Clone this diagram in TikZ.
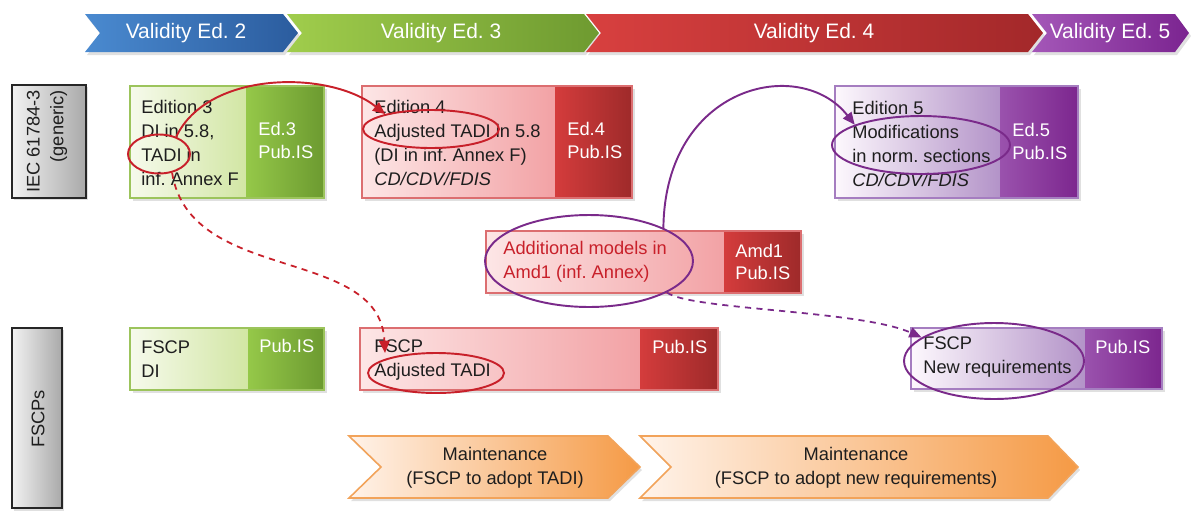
\documentclass[tikz,border=0pt]{standalone}
\usepackage{fontspec}
\setmainfont{Liberation Sans}
\usetikzlibrary{shapes.geometric,arrows.meta}

\definecolor{bluea}{HTML}{4A8AD0}\definecolor{blueb}{HTML}{2B5C9E}
\definecolor{greena}{HTML}{A0CD4C}\definecolor{greenb}{HTML}{6E9A30}
\definecolor{reda}{HTML}{D8403F}\definecolor{redb}{HTML}{A3282A}
\definecolor{purpa}{HTML}{A457B8}\definecolor{purpb}{HTML}{7B2490}
\definecolor{gLa}{HTML}{F6FAEC}\definecolor{gLb}{HTML}{D2E6A4}\definecolor{gBd}{HTML}{9CC45C}
\definecolor{gRa}{HTML}{95C849}\definecolor{gRb}{HTML}{6C9A30}
\definecolor{rLa}{HTML}{FDE6E6}\definecolor{rLb}{HTML}{F2A2A5}\definecolor{rBd}{HTML}{DC6E70}
\definecolor{rRa}{HTML}{D43C3C}\definecolor{rRb}{HTML}{9E2A2A}
\definecolor{pLa}{HTML}{FDF8FD}\definecolor{pLm}{HTML}{C6ABD8}\definecolor{pLb}{HTML}{B393C8}\definecolor{pBd}{HTML}{A57DC0}
\definecolor{pRa}{HTML}{9A52AD}\definecolor{pRb}{HTML}{7C268E}
\definecolor{oa}{HTML}{FFF3EA}\definecolor{ob}{HTML}{F59A45}\definecolor{oBd}{HTML}{F2A35A}
\definecolor{graya}{HTML}{F2F2F2}\definecolor{grayb}{HTML}{A9A9A9}
\definecolor{arrred}{HTML}{C8202A}\definecolor{arrpurp}{HTML}{7A2A8A}
\definecolor{txtgray}{HTML}{1E1E1E}

\begin{document}
\frenchspacing
\begin{tikzpicture}[x=0.02cm,y=-0.02cm,
  txt/.style={font=\fontsize{10.4}{13.6}\selectfont, text=txtgray, align=left, inner sep=0pt, anchor=west},
  wtxt/.style={font=\fontsize{10.4}{12.6}\selectfont, text=white, align=left, inner sep=0pt, anchor=west},
  ttl/.style={font=\fontsize{11.9}{14}\selectfont, text=white, inner sep=0pt},
  mtxt/.style={font=\fontsize{10.4}{13.6}\selectfont, text=txtgray, align=center, inner sep=0pt},
  shadowbox/.style={fill=black, opacity=0.12},
  ring/.style={ellipse, draw, line width=1.1pt, inner sep=0pt},
  redring/.style={ring, draw=arrred},
  purpring/.style={ring, draw=arrpurp},
  redarr/.style={draw=arrred, line width=1.1pt, -{Triangle[length=7pt,width=6pt]}},
  reddash/.style={redarr, line width=1pt, dash pattern=on 3.5pt off 3pt},
  purparr/.style={draw=arrpurp, line width=1.1pt, -{Triangle[length=7pt,width=6pt]}},
  purpdash/.style={purparr, line width=1pt, dash pattern=on 3.5pt off 3pt},
]
\useasboundingbox (0,0) rectangle (1203,511);

% ---------- top validity chevrons ----------
\fill[shadowbox] (87,17) -- (285,17) -- (300,36) -- (285,55) -- (87,55) -- (102,36) -- cycle;
\fill[shadowbox] (289,17) -- (586,17) -- (601,36) -- (586,55) -- (289,55) -- (304,36) -- cycle;
\fill[shadowbox] (588,17) -- (1030,17) -- (1045,36) -- (1030,55) -- (588,55) -- (603,36) -- cycle;
\fill[shadowbox] (1034,17) -- (1177,17) -- (1191,36) -- (1177,55) -- (1034,55) -- (1049,36) -- cycle;
\shade[left color=bluea, right color=blueb] (85,14) -- (283,14) -- (298,33) -- (283,52) -- (85,52) -- (100,33) -- cycle;
\shade[left color=greena, right color=greenb] (287,14) -- (584,14) -- (599,33) -- (584,52) -- (287,52) -- (302,33) -- cycle;
\shade[left color=reda, right color=redb] (586,14) -- (1028,14) -- (1043,33) -- (1028,52) -- (586,52) -- (601,33) -- cycle;
\shade[left color=purpa, right color=purpb] (1032,14) -- (1175,14) -- (1189,33) -- (1175,52) -- (1032,52) -- (1047,33) -- cycle;
\node[ttl] (v2) at (186,33) {Validity Ed. 2};
\node[ttl] (v3) at (441,33) {Validity Ed. 3};
\node[ttl] (v4) at (814,33) {Validity Ed. 4};
\node[ttl] (v5) at (1110,33) {Validity Ed. 5};

% ---------- left row labels ----------
\fill[shadowbox] (14,87) rectangle (88,200);
\shade[left color=graya, right color=grayb] (12,85) rectangle (86,198);
\draw[black!85, line width=1pt] (12,85) rectangle (86,198);
\node[txt, anchor=center, align=right, rotate=90] (lblIEC) at (47,141.5) {IEC 61784-3\\(generic)};
\fill[shadowbox] (14,330) rectangle (64,511);
\shade[left color=graya, right color=grayb] (12,328) rectangle (62,508);
\draw[black!85, line width=1pt] (12,328) rectangle (62,508);
\node[txt, anchor=center, rotate=90] (lblFSCP) at (38,419) {FSCPs};

% ---------- row 1: editions ----------
% Ed 3
\fill[shadowbox] (133,89) rectangle (327,201);
\shade[left color=gLa, right color=gLb] (130,86) rectangle (246,198);
\shade[left color=gRa, right color=gRb] (246,86) rectangle (324,198);
\draw[gBd, line width=0.9pt] (130,86) rectangle (324,198);
\node[txt] (ed3) at (141,143) {Edition 3\\DI in 5.8,\\TADI in\\inf. Annex F};
\node[wtxt] (ed3p) at (258,140.5) {Ed.3\\Pub.IS};
% Ed 4
\fill[shadowbox] (365,89) rectangle (635,201);
\shade[left color=rLa, right color=rLb] (362,86) rectangle (555,198);
\shade[left color=rRa, right color=rRb] (555,86) rectangle (632,198);
\draw[rBd, line width=0.9pt] (362,86) rectangle (632,198);
\node[txt] (ed4) at (374,143) {Edition 4\\Adjusted TADI in 5.8\\(DI in inf. Annex F)\\\textit{CD/CDV/FDIS}};
\node[wtxt] (ed4p) at (567,140.5) {Ed.4\\Pub.IS};
% Ed 5
\fill[shadowbox] (838,89) rectangle (1081,201);
\shade[left color=pLa, middle color=pLm, right color=pLb] (835,86) rectangle (1000,198);
\shade[left color=pRa, right color=pRb] (1000,86) rectangle (1078,198);
\draw[pBd, line width=0.9pt] (835,86) rectangle (1078,198);
\node[txt] (ed5) at (852,144) {Edition 5\\Modifications\\in norm. sections\\\textit{CD/CDV/FDIS}};
\node[wtxt] (ed5p) at (1012,141.5) {Ed.5\\Pub.IS};

% ---------- row 2: amendment ----------
\fill[shadowbox] (489,234) rectangle (804,296);
\shade[left color=rLa, right color=rLb] (486,231) rectangle (724,293);
\shade[left color=rRa, right color=rRb] (724,231) rectangle (801,293);
\draw[rBd, line width=0.9pt] (486,231) rectangle (801,293);
\node[txt, text=arrred] (amd) at (503,262) {Additional models in\\Amd1 (inf. Annex)};
\node[wtxt] (amdp) at (735,262) {Amd1\\Pub.IS};

% ---------- row 3: FSCPs ----------
\fill[shadowbox] (133,331) rectangle (327,393);
\shade[left color=gLa, right color=gLb] (130,328) rectangle (248,390);
\shade[left color=gRa, right color=gRb] (248,328) rectangle (324,390);
\draw[gBd, line width=0.9pt] (130,328) rectangle (324,390);
\node[txt] (fdi) at (141,359) {FSCP\\DI};
\node[wtxt] (fdip) at (259,346) {Pub.IS};

\fill[shadowbox] (363,331) rectangle (721,393);
\shade[left color=rLa, right color=rLb] (360,328) rectangle (640,390);
\shade[left color=rRa, right color=rRb] (640,328) rectangle (718,390);
\draw[rBd, line width=0.9pt] (360,328) rectangle (718,390);
\node[txt] (ftadi) at (374,360) {FSCP\\Adjusted TADI};
\node[wtxt] (ftadip) at (652,347) {Pub.IS};

\fill[shadowbox] (914,331) rectangle (1165,392);
\shade[left color=pLa, middle color=pLm, right color=pLb] (911,328) rectangle (1085,389);
\shade[left color=pRa, right color=pRb] (1085,328) rectangle (1162,389);
\draw[pBd, line width=0.9pt] (911,328) rectangle (1162,389);
\node[txt] (fnew) at (923,357) {FSCP\\New requirements};
\node[wtxt] (fnewp) at (1095,347) {Pub.IS};

% ---------- row 4: maintenance chevrons ----------
\fill[shadowbox] (351,439) -- (610,439) -- (642,470) -- (610,501) -- (351,501) -- (383,470) -- cycle;
\fill[shadowbox] (642,439) -- (1050,439) -- (1080,470) -- (1050,501) -- (642,501) -- (673,470) -- cycle;
\shade[left color=oa, right color=ob] (349,436) -- (608,436) -- (640,467) -- (608,498) -- (349,498) -- (381,467) -- cycle;
\draw[oBd, line width=0.9pt] (349,436) -- (608,436) -- (640,467) -- (608,498) -- (349,498) -- (381,467) -- cycle;
\shade[left color=oa, right color=ob] (640,436) -- (1048,436) -- (1078,467) -- (1048,498) -- (640,498) -- (671,467) -- cycle;
\draw[oBd, line width=0.9pt] (640,436) -- (1048,436) -- (1078,467) -- (1048,498) -- (640,498) -- (671,467) -- cycle;
\node[mtxt] (m1) at (495,467.5) {Maintenance\\(FSCP to adopt TADI)};
\node[mtxt] (m2) at (856,467.5) {Maintenance\\(FSCP to adopt new requirements)};

% ---------- highlight ellipses ----------
\node[redring, minimum width=1.24cm, minimum height=0.78cm] (eT3) at (159,154) {};
\node[redring, minimum width=2.72cm, minimum height=0.76cm] (eT4) at (431,129) {};
\node[purpring, minimum width=3.56cm, minimum height=1.16cm] (eMod) at (921,145) {};
\node[purpring, minimum width=4.16cm, minimum height=1.84cm] (eAmd) at (589,261) {};
\node[redring, minimum width=2.72cm, minimum height=0.8cm] (eTf) at (436,373) {};
\node[purpring, minimum width=3.6cm, minimum height=1.52cm] (eNew) at (994,361) {};

% ---------- connectors ----------
\coordinate (tipA) at (385,353);
\draw[redarr] (eT3.45) .. controls (208,70) and (330,70) .. (eT4.162);
\draw[reddash] (eT3.-55) .. controls (190,285) and (380,245) .. (tipA);
\draw[purparr] (eAmd.24) .. controls (665,85) and (800,55) .. (eMod.163);
\draw[purpdash] (eAmd.-22) .. controls (690,310) and (860,310) .. (eNew.162);
\end{tikzpicture}
\end{document}
